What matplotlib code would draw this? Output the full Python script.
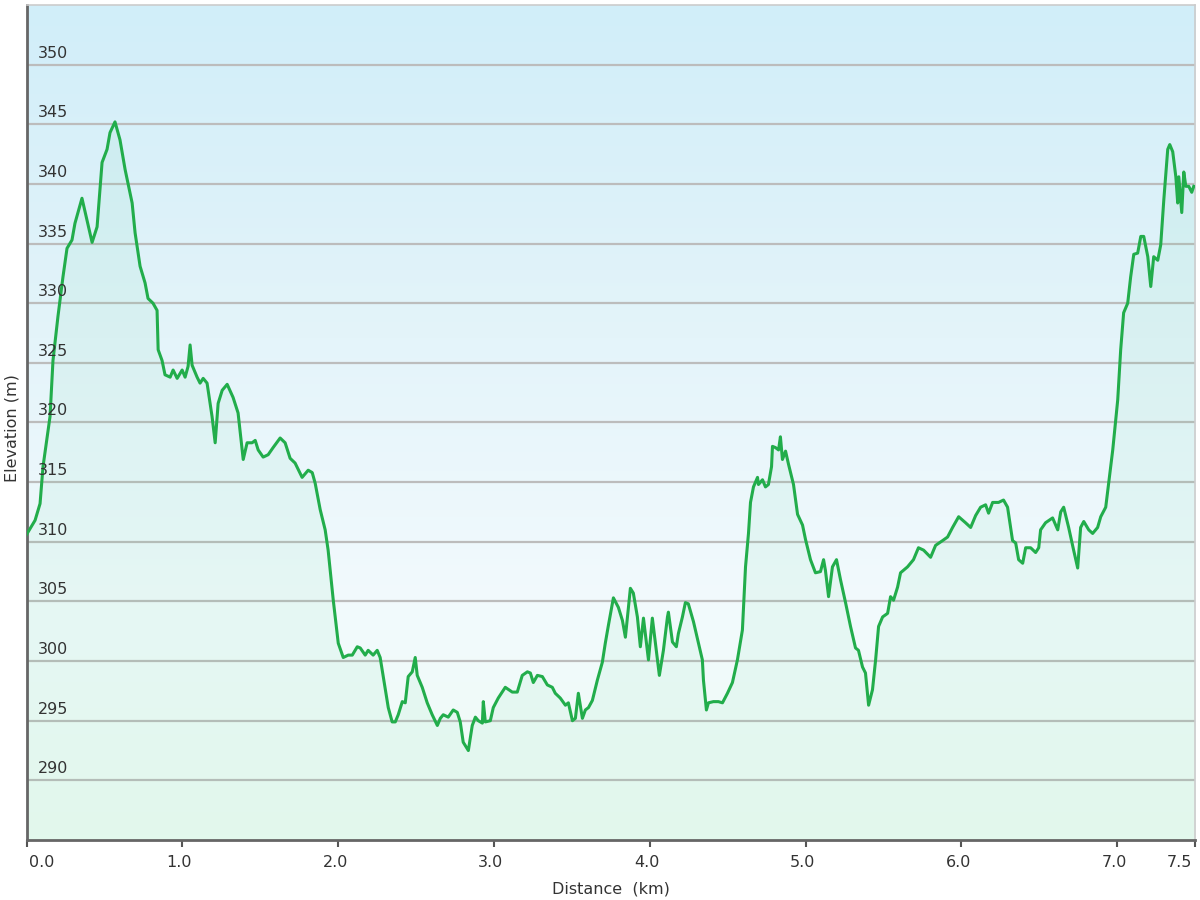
import numpy as np
import matplotlib
matplotlib.use("Agg")
import matplotlib.pyplot as plt
from matplotlib.colors import LinearSegmentedColormap
import matplotlib.transforms as mtransforms

distance_km = [
    0.00, 0.055, 0.087, 0.106, 0.151, 0.170, 0.202, 0.234, 0.260, 0.292, 0.311, 0.356,
    0.421, 0.453, 0.485, 0.517, 0.536, 0.568, 0.600, 0.633, 0.678, 0.697, 0.729, 0.761,
    0.780, 0.812, 0.838, 0.845, 0.870, 0.889, 0.922, 0.941, 0.967, 0.999, 1.018, 1.037,
    1.050, 1.063, 1.095, 1.114, 1.134, 1.159, 1.191, 1.211, 1.230, 1.256, 1.288, 1.326,
    1.358, 1.391, 1.416, 1.448, 1.468, 1.487, 1.519, 1.551, 1.583, 1.628, 1.660, 1.692,
    1.724, 1.769, 1.808, 1.834, 1.853, 1.885, 1.917, 1.936, 1.969, 2.001, 2.033, 2.065,
    2.091, 2.123, 2.142, 2.174, 2.193, 2.225, 2.251, 2.270, 2.290, 2.322, 2.347, 2.367,
    2.386, 2.412, 2.431, 2.450, 2.476, 2.495, 2.508, 2.540, 2.572, 2.604, 2.637, 2.656,
    2.675, 2.707, 2.739, 2.765, 2.784, 2.803, 2.836, 2.861, 2.881, 2.900, 2.926, 2.932,
    2.945, 2.977, 2.996, 3.028, 3.073, 3.118, 3.150, 3.182, 3.215, 3.234, 3.253, 3.279,
    3.311, 3.343, 3.375, 3.394, 3.426, 3.459, 3.478, 3.504, 3.523, 3.542, 3.568, 3.587,
    3.607, 3.632, 3.664, 3.696, 3.715, 3.735, 3.767, 3.799, 3.825, 3.844, 3.876, 3.895,
    3.921, 3.940, 3.960, 3.992, 4.017, 4.037, 4.062, 4.088, 4.114, 4.120, 4.146, 4.171,
    4.184, 4.210, 4.229, 4.248, 4.281, 4.313, 4.338, 4.345, 4.364, 4.377, 4.409, 4.441,
    4.467, 4.499, 4.531, 4.563, 4.595, 4.615, 4.634, 4.647, 4.666, 4.692, 4.698, 4.724,
    4.743, 4.762, 4.782, 4.788, 4.807, 4.827, 4.839, 4.852, 4.872, 4.891, 4.923, 4.949,
    4.981, 5.000, 5.032, 5.064, 5.096, 5.116, 5.128, 5.148, 5.173, 5.199, 5.225, 5.257,
    5.289, 5.321, 5.340, 5.366, 5.385, 5.405, 5.430, 5.450, 5.469, 5.495, 5.527, 5.546,
    5.565, 5.591, 5.610, 5.655, 5.693, 5.725, 5.758, 5.803, 5.835, 5.880, 5.912, 5.944,
    5.983, 6.027, 6.060, 6.092, 6.124, 6.156, 6.175, 6.201, 6.239, 6.271, 6.297, 6.329,
    6.349, 6.368, 6.394, 6.413, 6.445, 6.477, 6.497, 6.509, 6.541, 6.586, 6.619, 6.638,
    6.657, 6.689, 6.721, 6.747, 6.766, 6.786, 6.818, 6.843, 6.875, 6.895, 6.927, 6.946,
    6.972, 7.004, 7.023, 7.042, 7.068, 7.087, 7.107, 7.132, 7.152, 7.171, 7.197, 7.216,
    7.235, 7.261, 7.280, 7.300, 7.325, 7.338, 7.357, 7.377, 7.389, 7.396, 7.415, 7.428,
    7.441, 7.460, 7.479, 7.492,
]

elevation_m = [
    310.6, 311.8, 313.2, 316.3, 320.5, 325.2, 328.9, 332.2, 334.6, 335.3, 336.7, 338.8,
    335.1, 336.4, 341.8, 342.9, 344.3, 345.2, 343.7, 341.2, 338.4, 335.9, 333.1, 331.7,
    330.4, 330.0, 329.4, 326.1, 325.2, 324.0, 323.8, 324.4, 323.7, 324.4, 323.8, 324.7,
    326.5, 324.8, 323.8, 323.3, 323.7, 323.3, 320.5, 318.3, 321.6, 322.7, 323.2, 322.1,
    320.8, 316.9, 318.3, 318.3, 318.5, 317.7, 317.1, 317.3, 317.9, 318.7, 318.3, 317.0,
    316.6, 315.4, 316.0, 315.8, 314.9, 312.7, 311.0, 309.3, 305.1, 301.5, 300.3, 300.5,
    300.5, 301.2, 301.1, 300.5, 300.9, 300.5, 300.9, 300.3, 298.7, 296.1, 294.9, 294.9,
    295.5, 296.6, 296.5, 298.7, 299.1, 300.3, 298.8, 297.8, 296.5, 295.5, 294.6, 295.2,
    295.5, 295.3, 295.9, 295.7, 294.9, 293.2, 292.5, 294.6, 295.3, 295.0, 294.8, 296.6,
    294.9, 295.0, 296.1, 296.9, 297.8, 297.4, 297.4, 298.8, 299.1, 299.0, 298.2, 298.8,
    298.7, 298.0, 297.8, 297.3, 296.9, 296.3, 296.5, 295.0, 295.2, 297.3, 295.2, 295.9,
    296.1, 296.7, 298.4, 299.9, 301.5, 303.0, 305.3, 304.5, 303.4, 302.0, 306.1, 305.7,
    303.7, 301.2, 303.6, 300.1, 303.6, 301.5, 298.8, 300.9, 303.7, 304.1, 301.6, 301.2,
    302.3, 303.7, 304.9, 304.8, 303.3, 301.5, 300.1, 298.4, 295.9, 296.5, 296.6, 296.6,
    296.5, 297.3, 298.2, 300.1, 302.6, 307.9, 310.7, 313.3, 314.6, 315.4, 314.8, 315.2,
    314.6, 314.8, 316.3, 318.0, 317.9, 317.7, 318.8, 316.9, 317.6, 316.5, 314.8, 312.3,
    311.4, 310.2, 308.5, 307.4, 307.5, 308.5, 307.6, 305.4, 307.9, 308.5, 306.8, 304.9,
    302.9, 301.1, 300.9, 299.5, 299.0, 296.3, 297.6, 300.1, 302.9, 303.7, 304.0, 305.4,
    305.1, 306.2, 307.4, 307.9, 308.5, 309.5, 309.3, 308.7, 309.7, 310.1, 310.4, 311.2,
    312.1, 311.6, 311.2, 312.2, 312.9, 313.1, 312.4, 313.3, 313.3, 313.5, 312.9, 310.1,
    309.9, 308.5, 308.2, 309.5, 309.5, 309.1, 309.5, 311.0, 311.6, 312.0, 311.0, 312.5,
    312.9, 311.2, 309.3, 307.8, 311.2, 311.7, 311.0, 310.7, 311.2, 312.1, 312.9, 314.9,
    317.7, 321.9, 326.1, 329.2, 330.0, 332.2, 334.1, 334.2, 335.6, 335.6, 333.9, 331.4,
    333.9, 333.6, 334.9, 338.7, 342.9, 343.3, 342.7, 340.6, 338.4, 340.6, 337.6, 341.0,
    339.8, 339.8, 339.3, 339.8,
]

x_ticks = [0.0, 1.0, 2.0, 3.0, 4.0, 5.0, 6.0, 7.0, 7.5]
x_tick_labels = ["0.0", "1.0", "2.0", "3.0", "4.0", "5.0", "6.0", "7.0", "7.5"]
y_ticks = [290, 295, 300, 305, 310, 315, 320, 325, 330, 335, 340, 345, 350]

plt.rcParams['font.family'] = ['DejaVu Sans']

fig = plt.figure(figsize=(12, 9), dpi=100)
ax = fig.add_axes([26.5 / 1200, 1 - 840 / 900, (1195 - 26.5) / 1200, (840 - 5) / 900])

xmin, xmax, ymin, ymax = 0.0, 7.5, 285, 355
ax.set_xlim(xmin, xmax)
ax.set_ylim(ymin, ymax)

# gradient background
cmap = LinearSegmentedColormap.from_list(
    "bg", [(0.0, "#eefcf4"), (0.28, "#f2fafd"), (0.6, "#e4f4fa"), (1.0, "#d1eef9")])
grad = np.linspace(0, 1, 256).reshape(-1, 1)
ax.imshow(grad, extent=[xmin, xmax, ymin, ymax], origin="lower", aspect="auto",
          cmap=cmap, zorder=0, interpolation="bicubic")

# grid lines
for v in y_ticks:
    ax.axhline(v, color="#bcbcbc", lw=1.6, zorder=1)

ax.fill_between(distance_km, elevation_m, ymin, color="#4fd08a", alpha=0.07,
                lw=0, zorder=2)
ax.plot(distance_km, elevation_m, color="#22ad4b", lw=2.2, zorder=3,
        solid_joinstyle="round")

# y labels inside the plot
trans = mtransforms.blended_transform_factory(ax.transAxes, ax.transData)
trans = mtransforms.offset_copy(trans, fig=fig, x=0, y=4, units="dots")
for v in y_ticks:
    ax.text(0.0098, v, str(v), transform=trans, ha="left", va="bottom",
            fontsize=11.5, color="#333333", zorder=4)

ax.set_yticks([])
ax.set_xticks(x_ticks)
ax.set_xticklabels(x_tick_labels, fontsize=11.5, color="#333333")
ax.tick_params(axis="x", direction="out", length=5, width=1.5, color="#555555", pad=6)

labels = ax.get_xticklabels()
shift = mtransforms.ScaledTranslation(-3 / 100, 0, fig.dpi_scale_trans)
for lab in labels:
    lab.set_transform(lab.get_transform() + shift)
labels[0].set_horizontalalignment("left")
labels[0].set_transform(labels[0].get_transform()
                        + mtransforms.ScaledTranslation(5 / 100, 0, fig.dpi_scale_trans))
labels[-1].set_horizontalalignment("right")

ax.set_xlabel("Distance  (km)", fontsize=11.5, color="#333333", labelpad=8)
fig.text(12 / 1200, 1 - 428 / 900, "Elevation (m)", rotation=90, ha="center",
         va="center", fontsize=11.5, color="#333333")

for s in ["left", "bottom"]:
    ax.spines[s].set_color("#666666")
    ax.spines[s].set_linewidth(2)
for s in ["top", "right"]:
    ax.spines[s].set_color("#cccccc")
    ax.spines[s].set_linewidth(1.2)

fig.savefig("out.png", dpi=100, facecolor="white")
